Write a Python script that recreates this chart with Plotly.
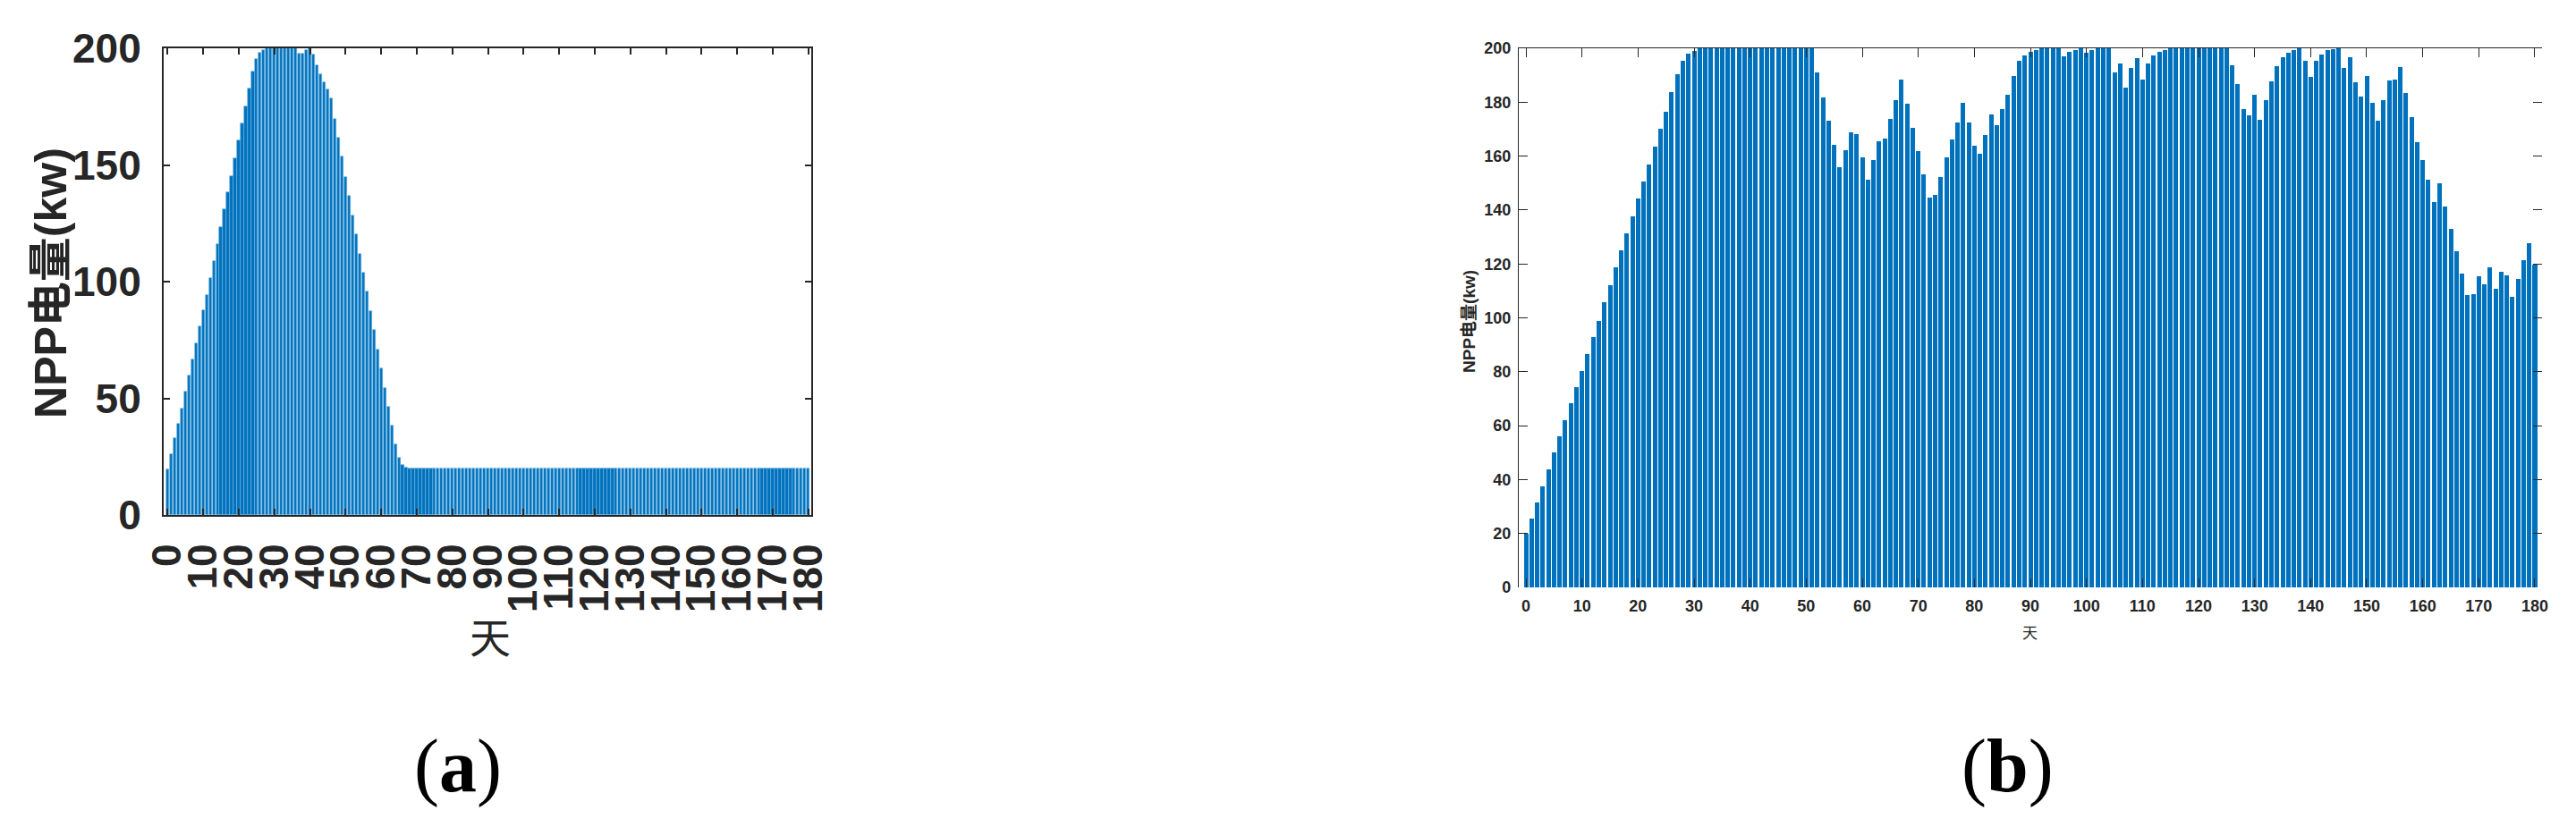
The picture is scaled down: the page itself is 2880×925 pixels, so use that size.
import plotly.graph_objects as go

# day index 0..180
days = list(range(181))

# (a) NPP power per day (kw)
npp_a = [
    19.6, 26, 32.8, 39, 45.5, 53, 59.8, 66.7, 73.5, 80.7,
    87.6, 94.4, 101.7, 108.7, 116, 123.2, 131, 138.2, 145.4, 153,
    160.4, 167.7, 175.1, 182.7, 190, 195.5, 198, 199.4, 200, 200,
    200, 200, 200, 200, 200, 200, 200, 197.7, 197.7, 199.4,
    200, 197.4, 192.6, 188.8, 185.3, 182.4, 178.6, 169.9, 161.8, 153.5,
    145, 136.8, 128.5, 120.2, 111.9, 103.8, 95.7, 87.5, 79.3, 71,
    62.8, 54.5, 46.3, 38.2, 30.4, 24.6, 21.6, 20.4, 20, 20,
    20, 20, 20, 20, 20, 20, 20, 20, 20, 20,
    20, 20, 20, 20, 20, 20, 20, 20, 20, 20,
    20, 20, 20, 20, 20, 20, 20, 20, 20, 20,
    20, 20, 20, 20, 20, 20, 20, 20, 20, 20,
    20, 20, 20, 20, 20, 20, 20, 20, 20, 20,
    20, 20, 20, 20, 20, 20, 20, 20, 20, 20,
    20, 20, 20, 20, 20, 20, 20, 20, 20, 20,
    20, 20, 20, 20, 20, 20, 20, 20, 20, 20,
    20, 20, 20, 20, 20, 20, 20, 20, 20, 20,
    20, 20, 20, 20, 20, 20, 20, 20, 20, 20,
    20, 20, 20, 20, 20, 20, 20, 20, 20, 20,
    20,
]

# (b) NPP power per day (kw)
npp_b = [
    20, 25.7, 31.5, 37.6, 43.7, 50, 55.9, 62.1, 68.2, 74.3,
    80.4, 86.7, 92.8, 99, 105.7, 112, 118.9, 125.1, 131.4, 137.8,
    144.3, 150.7, 157, 163.4, 170, 176.6, 183.9, 190.5, 195.4, 198,
    199, 200, 200, 200, 200, 200, 200, 200, 200, 200,
    200, 200, 200, 200, 200, 200, 200, 200, 200, 200,
    200, 200, 190.9, 181.9, 173.2, 164.3, 155.8, 162.2, 168.7, 168.3,
    159.7, 151.2, 158.5, 165.6, 166.6, 173.7, 180.9, 188.5, 179.5, 170.4,
    161.9, 153.1, 144.5, 145.6, 152.1, 159.4, 166.1, 172.4, 179.8, 172.6,
    163.8, 161, 167.7, 175.3, 171.4, 177.5, 182.9, 189.7, 195.3, 197.5,
    198.6, 199.5, 200, 200, 200, 200, 197, 198.6, 199.5, 200,
    198.3, 199.5, 200, 200, 200, 191, 194.4, 185.4, 192.7, 196.4,
    188.3, 194.2, 197.5, 198.6, 199.5, 200, 200, 200, 200, 200,
    200, 200, 200, 200, 200, 200, 193.7, 186.6, 177.5, 175.1,
    182.6, 173.6, 180.9, 187.6, 193.4, 196.6, 198.3, 199.5, 200, 195.4,
    189.3, 195.3, 197.8, 199.2, 199.8, 200, 192.7, 196.8, 187.5, 182.2,
    189.7, 179.8, 173.2, 180.7, 188.1, 188.3, 192.9, 183.4, 174.3, 165.1,
    158.5, 151.4, 143.1, 149.9, 141.4, 132.9, 124.8, 116.3, 108.4, 108.7,
    115.3, 112.4, 118.7, 110.9, 117, 115.8, 107.9, 114.3, 121.3, 127.7,
    119.6,
]

x_ticks = list(range(0, 181, 10))
y_ticks_a = [0, 50, 100, 150, 200]
y_ticks_b = list(range(0, 201, 20))

BAR = "#0072BD"
INK = "#262626"
SANS = "Liberation Sans, Arial, Noto Sans CJK SC, sans-serif"
SERIF = "Liberation Serif, Times New Roman, serif"
CJK = "Noto Sans CJK SC, sans-serif"

fig = go.Figure()
# thin light outline keeps the dense bars of (a) from merging into blocks
fig.add_trace(go.Bar(x=days, y=npp_a, xaxis="x", yaxis="y", width=0.8,
                     marker=dict(color=BAR, line=dict(width=0.6, color="#6db2e3")),
                     showlegend=False))
fig.add_trace(go.Bar(x=days, y=npp_b, xaxis="x2", yaxis="y2", width=0.8,
                     marker=dict(color=BAR, line=dict(width=0)),
                     showlegend=False))
# empty trace so the frame axes of (b) get drawn
fig.add_trace(go.Scatter(x=[], y=[], xaxis="x3", yaxis="y3",
                         showlegend=False, hoverinfo="skip"))

common = dict(showgrid=False, zeroline=False, ticks="inside", tickcolor=INK,
              automargin=False)

fig.update_layout(
    width=2880, height=925,
    margin=dict(l=0, r=0, t=0, b=0, autoexpand=False),
    paper_bgcolor="white", plot_bgcolor="white",
    bargap=0,
    xaxis=dict(domain=[0.06354, 0.31493], anchor="y", range=[-1.1, 180.8],
               tickvals=x_ticks, ticktext=[str(v) for v in x_ticks],
               tickangle=-90, ticklen=7, tickwidth=1.5,
               showline=True, linewidth=2, linecolor=INK, mirror="ticks",
               tickfont=dict(family=SANS, size=46, color=INK, weight="bold"),
               ticklabelstandoff=12, **common),
    yaxis=dict(domain=[0.3773, 0.94162], anchor="x", range=[0, 200],
               tickvals=y_ticks_a, ticklen=7, tickwidth=1.5,
               showline=True, linewidth=2, linecolor=INK, mirror="ticks",
               tickfont=dict(family=SANS, size=46, color=INK, weight="bold"),
               ticklabelstandoff=14, **common),
    xaxis2=dict(domain=[0.58958, 0.98681], anchor="y2", range=[-1.28, 181.28],
                tickvals=x_ticks, ticklen=10, tickwidth=1,
                showline=False,
                tickfont=dict(family=SANS, size=18, color=INK, weight="bold"),
                ticklabelstandoff=8, **common),
    yaxis2=dict(domain=[0.28973, 0.94162], anchor="x2", range=[0, 200],
                tickvals=y_ticks_b, ticklen=10, tickwidth=1,
                showline=True, linewidth=1, linecolor=INK,
                tickfont=dict(family=SANS, size=18, color=INK, weight="bold"),
                ticklabelstandoff=4, **common),
    xaxis3=dict(overlaying="x2", side="top", anchor="y3", range=[-1.28, 181.28],
                tickvals=x_ticks, ticklen=10, tickwidth=1,
                showline=True, linewidth=1, linecolor=INK,
                showticklabels=False, **common),
    yaxis3=dict(overlaying="y2", side="right", anchor="x3", range=[0, 200],
                tickvals=y_ticks_b, ticklen=10, tickwidth=1,
                showline=False, showticklabels=False, **common),
)

notes = [
    # text, x, y, size, family, angle, weight
    ("NPP电量(kw)", 0.01979, 0.6584, 50, SANS, -90, "bold"),
    ("天", 0.19028, 0.23243, 46, CJK, 0, "normal"),
    ("(<b>a</b>)", 0.17778, 0.07351, 84, SERIF, 0, "normal"),
    ("NPP电量(kw)", 0.57014, 0.61081, 19, SANS, -90, "bold"),
    ("天", 0.78819, 0.23568, 17, CJK, 0, "normal"),
    ("(<b>b</b>)", 0.77951, 0.07351, 84, SERIF, 0, "normal"),
]
for text, x, y, size, fam, ang, wt in notes:
    fig.add_annotation(text=text, x=x, y=y, xref="paper", yref="paper",
                       xanchor="center", yanchor="middle", showarrow=False,
                       textangle=ang,
                       font=dict(family=fam, size=size, color=INK if size < 60 else "black",
                                 weight=wt))

# drop the default page margin so the figure sits at the window corner
fig.write_html("out.html", config={"displayModeBar": False},
               post_script="document.body.style.margin='0px';")
